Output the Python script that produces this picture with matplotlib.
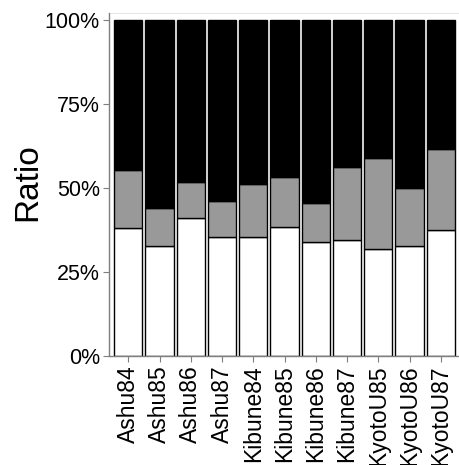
import matplotlib
matplotlib.use("Agg")
import matplotlib.pyplot as plt
import numpy as np
from matplotlib.ticker import FuncFormatter

categories = ["Ashu84", "Ashu85", "Ashu86", "Ashu87", "Kibune84", "Kibune85",
              "Kibune86", "Kibune87", "KyotoU85", "KyotoU86", "KyotoU87"]
white_part = [0.379, 0.327, 0.411, 0.354, 0.355, 0.383, 0.338, 0.346, 0.319, 0.326, 0.375]
gray_part = [0.176, 0.114, 0.108, 0.106, 0.156, 0.149, 0.118, 0.215, 0.271, 0.174, 0.241]
black_part = [0.445, 0.559, 0.481, 0.540, 0.489, 0.468, 0.544, 0.439, 0.410, 0.500, 0.384]
y_ticks = [0, 0.25, 0.5, 0.75, 1.0]

plt.rcParams['font.family'] = ['Liberation Sans', 'DejaVu Sans']

fig = plt.figure(figsize=(4.6, 4.65), dpi=100)
ax = fig.add_axes([109.5/460, 1 - 355.5/465, 350/460, (355.5-13)/465])

x = np.arange(len(categories))
w = np.array(white_part)
g = np.array(gray_part)
b = np.array(black_part)
kw = dict(width=0.9, edgecolor="black", linewidth=1.0)
ax.bar(x, w, color="white", **kw)
ax.bar(x, g, bottom=w, color="#999999", **kw)
ax.bar(x, b, bottom=w + g, color="black", **kw)

ax.set_xlim(-0.6, len(categories) - 0.4)
ax.set_ylim(0, 1.022)
ax.set_yticks(y_ticks)
ax.yaxis.set_major_formatter(FuncFormatter(lambda v, p: f"{int(round(v*100))}%"))
ax.set_xticks(x)
ax.set_xticklabels(categories, rotation=90)
ax.tick_params(axis="y", labelsize=15.5, length=4, color="#7f7f7f", width=0.8, pad=3)
ax.tick_params(axis="x", labelsize=16.5, length=4, color="#7f7f7f", width=0.8, pad=3)
ax.set_ylabel("Ratio", fontsize=24, labelpad=2)
ax.yaxis.set_label_coords(-0.19, 0.505)

for s in ["left", "bottom"]:
    ax.spines[s].set_color("#7f7f7f")
    ax.spines[s].set_linewidth(1.0)
ax.spines["right"].set_visible(False)
ax.spines["top"].set_color("#dddddd")
ax.spines["top"].set_linewidth(0.5)

fig.savefig("out.png", dpi=100)
